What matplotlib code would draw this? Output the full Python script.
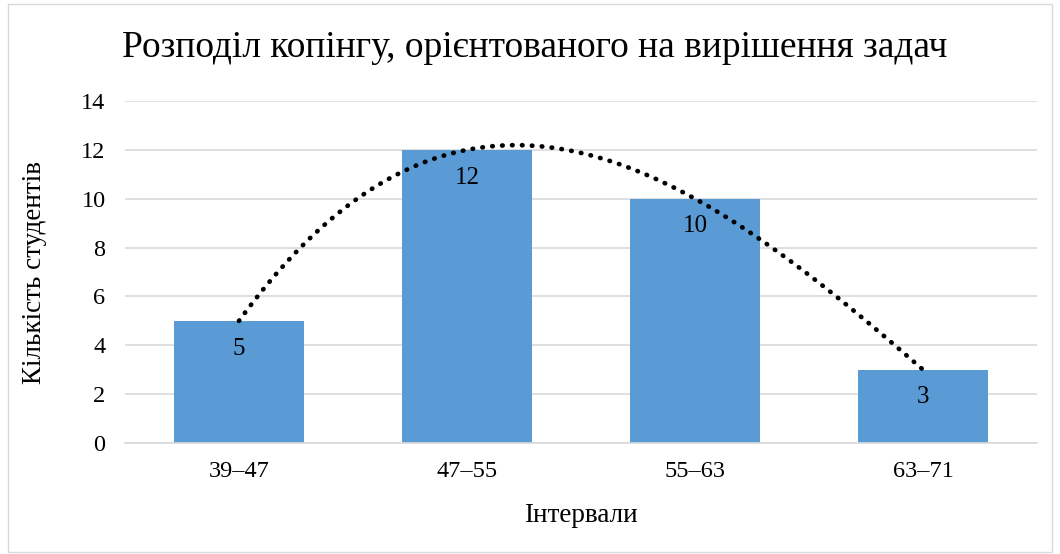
import numpy as np
import matplotlib
matplotlib.use("Agg")
import matplotlib.pyplot as plt
from matplotlib.patches import Rectangle

categories = ["39–47", "47–55", "55–63", "63–71"]
counts = [5, 12, 10, 3]
yticks = [0, 2, 4, 6, 8, 10, 12, 14]
title = "Розподіл копінгу, орієнтованого на вирішення задач"
xlabel = "Інтервали"
ylabel = "Кількість студентів"

plt.rcParams['font.family'] = ['Liberation Serif', 'DejaVu Serif']

fig = plt.figure(figsize=(10.6, 5.54), dpi=100)
ax = fig.add_axes([125/1060, 1 - 443/554, (1037-125)/1060, (443-101)/554])

x = np.arange(len(categories))
ax.bar(x, counts, width=0.57, color='#5B9BD5', zorder=2)
for xi, v in zip(x, counts):
    ax.annotate(str(v), (xi, v), xytext=(0, -12), textcoords='offset points',
                ha='center', va='top', fontsize=18, color='#000000', zorder=4)

# polynomial (order 3) trendline
coef = np.polyfit(x, counts, 3)
xs = np.linspace(x[0], x[-1], 300)
ax.plot(xs, np.polyval(coef, xs), color='black', linestyle=(0, (0.1, 2.0)),
        linewidth=3.4, dash_capstyle='round', zorder=3)

ax.set_xlim(-0.5, len(categories) - 0.5)
ax.set_ylim(0, 14)
ax.set_yticks(yticks)
ax.set_xticks(x)
ax.set_xticklabels(categories)
ax.tick_params(axis='both', length=0, labelsize=17.5, colors='#000000')
ax.tick_params(axis='y', pad=14)
ax.tick_params(axis='x', pad=13)
ax.grid(axis='y', color='#d9d9d9', linewidth=1.2, zorder=0)
for s in ['top', 'right', 'left']:
    ax.spines[s].set_visible(False)
ax.spines['bottom'].set_color('#d9d9d9')
ax.spines['bottom'].set_linewidth(1.2)

fig.text(581/1060, 1 - 515/554, xlabel, ha='center', va='center', fontsize=19.5)
fig.text(35/1060, 1 - 272/554, ylabel, ha='center', va='center', fontsize=19.5, rotation=90)
fig.text(535/1060, 1 - 48/554, title, ha='center', va='center', fontsize=27)

fig.patches.append(Rectangle((8/1060, 2/554), 1044/1060, 548/554, transform=fig.transFigure,
                             fill=False, edgecolor='#d9d9d9', linewidth=1.0))

fig.savefig('out.png', dpi=100)
